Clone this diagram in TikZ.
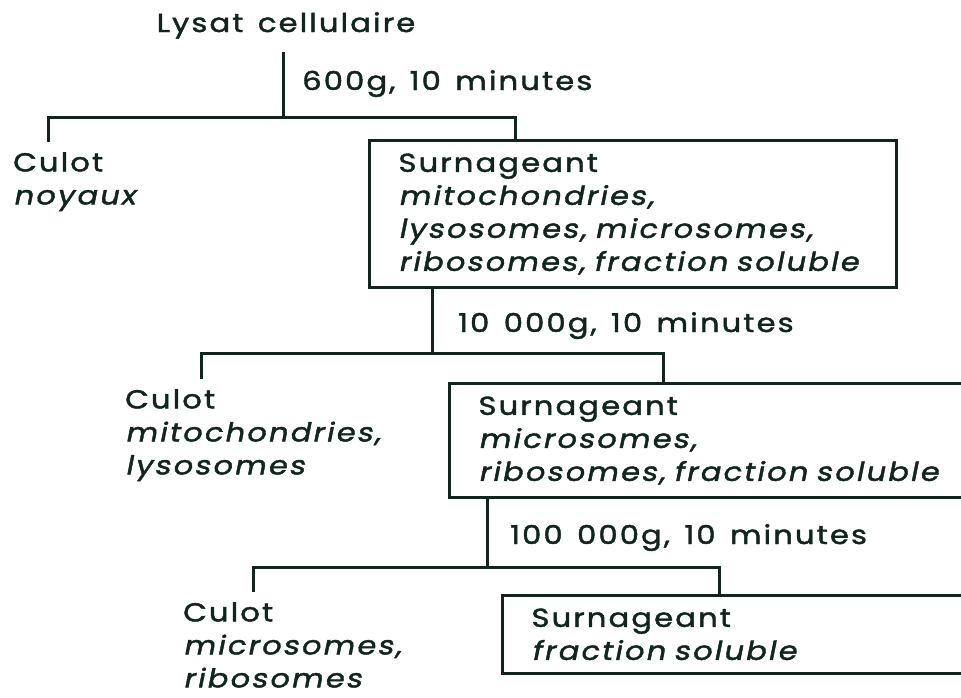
\documentclass[tikz,border=0pt]{standalone}
\usepackage{fontspec}
\setmainfont{Poppins}[FakeStretch=1.18,LetterSpace=8,WordSpace=1.4,AutoFakeSlant=0.2,FakeBold=1.6]
\definecolor{InkGreen}{RGB}{18,36,30}
\usetikzlibrary{positioning}

\begin{document}
\begin{tikzpicture}[x=1pt,y=-1pt,color=InkGreen,
        every node/.style={font=\fontsize{26}{33}\selectfont},
        lbl/.style={anchor=base west, inner sep=0pt},
        culot/.style={anchor=north west, align=left, inner xsep=0pt, inner ysep=10pt},
        frac/.style={draw, line width=3pt, anchor=north west, align=left, inner xsep=29pt, inner ysep=13pt, text width=#1},
        link/.style={line width=3pt},
    ]
    \useasboundingbox (0,0) rectangle (961,697);
    \clip (0,0) rectangle (961,697);

    % lysat and first spin
    \node[anchor=base, inner sep=0pt] (lysat) at (286,32) {Lysat cellulaire};
    \node[lbl] (g1) at (302,90) {600g, 10 minutes};
    \node[culot] (culot1) at (13,142) {Culot\\\textit{noyaux}};
    \node[frac=469pt] (surn1) at (368,139) {Surnageant\\\textit{mitochondries,}\\\textit{lysosomes, microsomes,}\\\textit{ribosomes, fraction soluble}};
    \coordinate (f1) at (283,117);
    \coordinate (cd1) at (48,0);
    \coordinate (sd1) at (515,0);
    \path (lysat.south) ++(0,13) coordinate (t1);
    \draw[link] (t1 -| f1) -- (f1);
    \draw[link] (cd1 |- culot1.north) |- (f1) -| (sd1 |- surn1.north);

    % second spin
    \node[lbl] (g2) at (458,332) {10 000g, 10 minutes};
    \node[culot] (culot2) at (125,379) {Culot\\\textit{mitochondries,}\\\textit{lysosomes}};
    \node[frac=594pt] (surn2) at (448,382) {Surnageant\\\textit{microsomes,}\\\textit{ribosomes, fraction soluble}};
    \coordinate (f2) at (432,353);
    \coordinate (cd2) at (201,0);
    \coordinate (sd2) at (663,0);
    \draw[link] (surn1.south -| f2) -- (f2);
    \draw[link] (cd2 |- culot2.north) |- (f2) -| (sd2 |- surn2.north);

    % third spin
    \node[lbl] (g3) at (510,544) {100 000g, 10 minutes};
    \node[culot] (culot3) at (183,592) {Culot\\\textit{microsomes,}\\\textit{ribosomes}};
    \node[frac=541pt] (surn3) at (501,594) {Surnageant\\\textit{fraction soluble}};
    \coordinate (f3) at (487,567);
    \coordinate (cd3) at (253,0);
    \coordinate (sd3) at (719,0);
    \draw[link] (surn2.south -| f3) -- (f3);
    \draw[link] (cd3 |- culot3.north) |- (f3) -| (sd3 |- surn3.north);
\end{tikzpicture}
\end{document}
